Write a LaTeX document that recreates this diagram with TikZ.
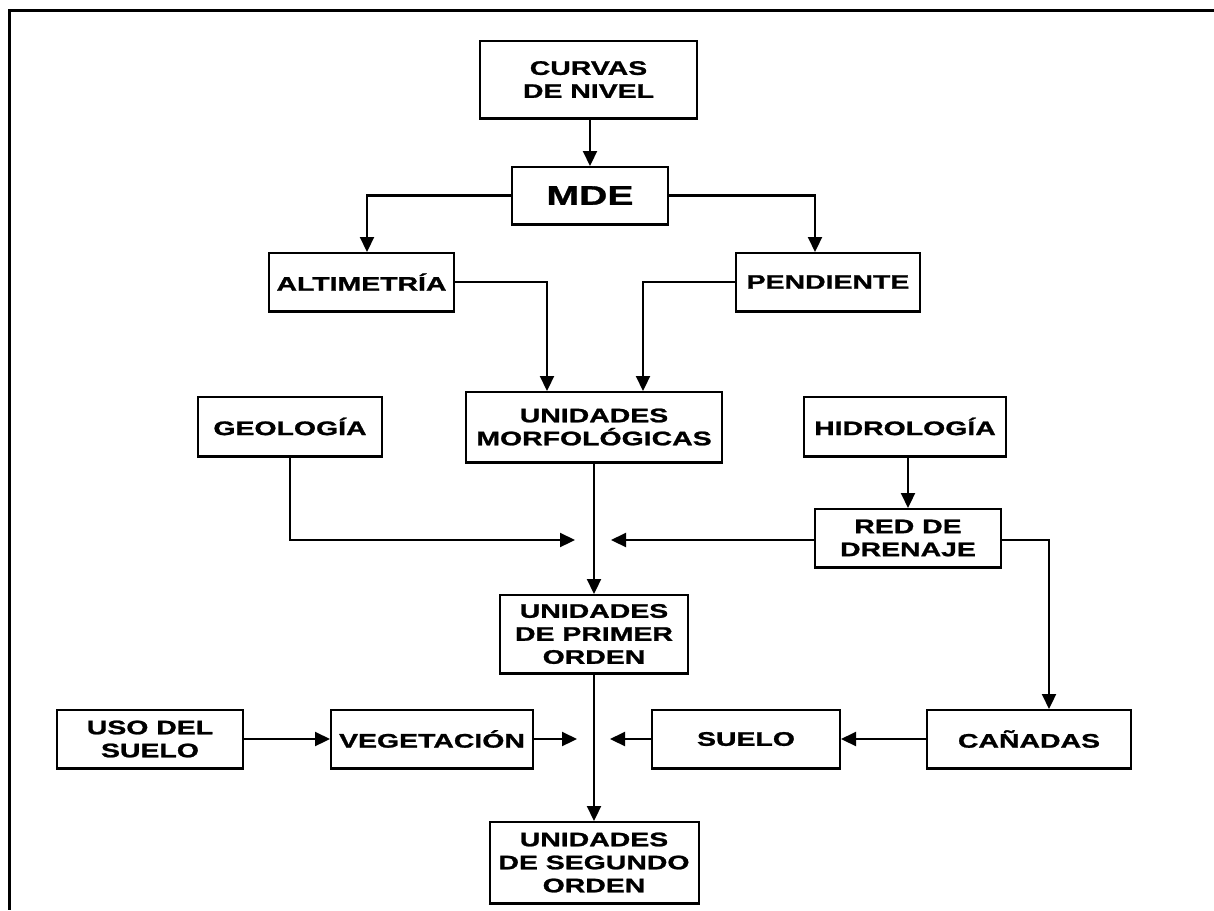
\documentclass[tikz,border=0pt]{standalone}
\usepackage{fontspec}
\setmainfont{Liberation Sans}
\newfontfamily\bx[FakeStretch=1.45,FakeBold=1.2]{Liberation Sans}
\usetikzlibrary{arrows.meta}
\begin{document}
\begin{tikzpicture}[x=1pt,y=-1pt,
  box/.style={draw, line width=2pt, inner sep=0pt, align=center,
    font=\bx\bfseries\fontsize{19.6}{23}\selectfont,
    append after command={[line width=3.5pt,line cap=rect]
      (\tikzlastnode.south west) edge (\tikzlastnode.south east)}},
  con/.style={line width=2.2pt},
  arr/.style={con, -{Triangle[length=15pt,width=14pt]}}
]
\useasboundingbox (0,0) rectangle (1214,910);
\draw[line width=3pt] (1214,10) -- (9,10) -- (9,910);

\node[box, minimum width=217pt, minimum height=77pt] (curvas) at (588.5,79.5) {CURVAS\\DE NIVEL};
\node[box, minimum width=156pt, minimum height=57pt, font=\bx\bfseries\fontsize{27}{30}\selectfont] (mde) at (590,195.5) {MDE};
\node[box, minimum width=185pt, minimum height=58pt] (alti) at (361.5,282) {ALTIMETRÍA};
\node[box, minimum width=184pt, minimum height=58pt] (pend) at (828,282) {PENDIENTE};
\node[box, minimum width=256pt, minimum height=70pt] (morf) at (594,427) {UNIDADES\\MORFOLÓGICAS};
\node[box, minimum width=184pt, minimum height=59pt] (geo) at (290,426.5) {GEOLOGÍA};
\node[box, minimum width=202pt, minimum height=59pt] (hidro) at (905,426.5) {HIDROLOGÍA};
\node[box, minimum width=186pt, minimum height=58pt] (red) at (908,538) {RED DE\\DRENAJE};
\node[box, minimum width=188pt, minimum height=78pt] (prim) at (594,634) {UNIDADES\\DE PRIMER\\ORDEN};
\node[box, minimum width=209pt, minimum height=81pt] (seg) at (594,862.5) {UNIDADES\\DE SEGUNDO\\ORDEN};
\node[box, minimum width=186pt, minimum height=58pt] (uso) at (150,739) {USO DEL\\SUELO};
\node[box, minimum width=202pt, minimum height=58pt] (veg) at (432,739) {VEGETACIÓN};
\node[box, minimum width=188pt, minimum height=58pt] (suelo) at (746,739) {SUELO};
\node[box, minimum width=204pt, minimum height=58pt] (can) at (1029,739) {CAÑADAS};

\coordinate (jl) at (575,540);
\coordinate (jr) at (611,540);
\coordinate (kl) at (577,739);
\coordinate (kr) at (610,739);

\draw[arr] (curvas.south -| mde.north) -- (mde.north);
\draw[arr] (mde.west) -| ([xshift=5.5pt]alti.north);
\draw[arr] (mde.east) -| ([xshift=-13pt]pend.north);
\draw[arr] (alti.east) -| ([xshift=-47pt]morf.north);
\draw[arr] (pend.west) -| ([xshift=49pt]morf.north);
\draw[arr] (morf.south) -- (prim.north);
\draw[arr] (geo.south) |- (jl);
\draw[arr] (red.west |- jr) -- (jr);
\draw[arr] (hidro.south -| red.north) -- (red.north);
\draw[arr] (red.east |- jr) -| ([xshift=20pt]can.north);
\draw[arr] (prim.south) -- (seg.north);
\draw[arr] (uso.east) -- (veg.west);
\draw[arr] (veg.east) -- (kl);
\draw[arr] (suelo.west) -- (kr);
\draw[arr] (can.west) -- (suelo.east);
\end{tikzpicture}
\end{document}
